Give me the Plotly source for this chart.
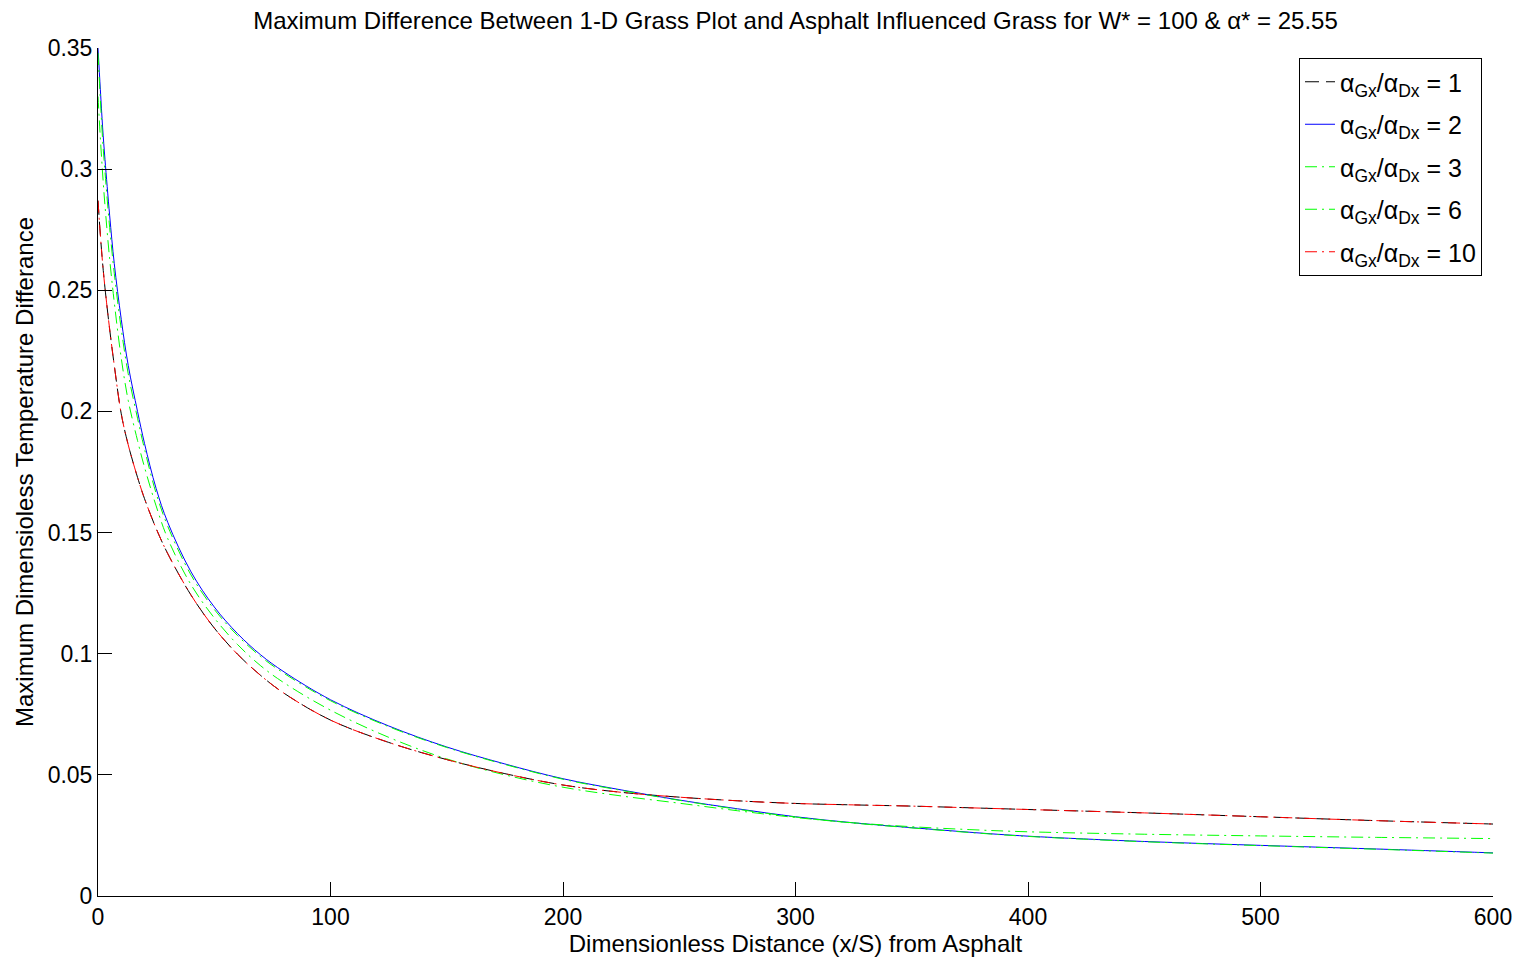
import plotly.graph_objects as go

# ---- data ----
x_dist = [0, 1, 2, 3, 5, 7, 10, 13, 17, 20, 25, 30, 40, 50, 60, 70, 80, 100, 125,
          150, 175, 200, 225, 250, 275, 300, 325, 350, 375, 400, 450, 500, 550, 600]

ratio_1 = [0.287, 0.273, 0.261, 0.251, 0.234, 0.219, 0.199, 0.1862, 0.1728, 0.1640,
           0.1517, 0.1413, 0.1242, 0.1106, 0.0998, 0.0910, 0.0837, 0.0726, 0.0634,
           0.0563, 0.0505, 0.0458, 0.0428, 0.0408, 0.0393, 0.0382, 0.0376, 0.0371,
           0.0364, 0.0357, 0.0343, 0.0327, 0.0311, 0.0297]

ratio_2 = [0.350, 0.333, 0.317, 0.304, 0.281, 0.261, 0.238, 0.219, 0.200, 0.1868,
           0.1682, 0.1542, 0.1338, 0.1193, 0.1083, 0.0995, 0.0925, 0.0810, 0.0702,
           0.0615, 0.0545, 0.0484, 0.0438, 0.0396, 0.0360, 0.0327, 0.0302, 0.0282,
           0.0263, 0.0247, 0.0225, 0.0209, 0.0194, 0.0178]

ratio_3 = [0.348, 0.329, 0.312, 0.299, 0.276, 0.257, 0.234, 0.2155, 0.1972, 0.1845,
           0.1662, 0.1526, 0.1325, 0.1183, 0.1075, 0.0988, 0.0919, 0.0806, 0.0699,
           0.0613, 0.0543, 0.0482, 0.0436, 0.0395, 0.0358, 0.0326, 0.0301, 0.0281,
           0.0262, 0.0246, 0.0224, 0.0208, 0.0193, 0.0177]

ratio_6 = [0.330, 0.313, 0.298, 0.285, 0.263, 0.245, 0.222, 0.2045, 0.188, 0.177,
           0.161, 0.1475, 0.1285, 0.1148, 0.1038, 0.0950, 0.0880, 0.0767, 0.0655,
           0.0566, 0.0500, 0.0449, 0.0413, 0.0383, 0.0352, 0.0324, 0.0302, 0.0286,
           0.0274, 0.0265, 0.0255, 0.0248, 0.0242, 0.0237]

ratio_10 = list(ratio_1)

series_names = ["1", "2", "3", "6", "10"]
series_vals = [ratio_1, ratio_2, ratio_3, ratio_6, ratio_10]
series_colors = ["#000000", "#0000FF", "#00FF00", "#00FF00", "#FF0000"]
series_dash = ["14px,7px", "solid", "12px,5px,2px,5px", "12px,5px,2px,5px", "12px,5px,2px,5px"]

x_ticks = [0, 100, 200, 300, 400, 500, 600]
y_ticks = [0, 0.05, 0.1, 0.15, 0.2, 0.25, 0.3, 0.35]
y_ticktext = ["0", "0.05", "0.1", "0.15", "0.2", "0.25", "0.3", "0.35"]

FONT = "Liberation Sans, Arial, sans-serif"

# page body has an 8px margin, so the figure is sized/offset to compensate
W, H = 1508, 949
ML, MR, MT, MB = 90, 23, 40, 61

fig = go.Figure()
for name, vals, col, dash in zip(series_names, series_vals, series_colors, series_dash):
    fig.add_trace(go.Scatter(
        x=x_dist, y=vals, mode="lines",
        line=dict(color=col, width=1, dash=dash, shape="spline", smoothing=1.0),
        name="α<sub>Gx</sub>/α<sub>Dx</sub> = " + name,
        legendgroup="g" + name,
    ))

fig.update_layout(
    width=W, height=H, autosize=False,
    paper_bgcolor="white", plot_bgcolor="white",
    margin=dict(l=ML, r=MR, t=MT, b=MB, pad=0, autoexpand=False),
    font=dict(family=FONT, size=22, color="black"),
    title=dict(
        text="Maximum Difference Between 1-D Grass Plot and Asphalt Influenced Grass for W* = 100 &amp; α* = 25.55",
        x=0.5, xref="paper", xanchor="center",
        y=1 - 13 / H, yref="container", yanchor="middle",
        font=dict(family=FONT, size=24, color="black"),
    ),
    showlegend=True,
    legend=dict(
        x=(1299 - 98) / 1395, y=(896 - 58) / 848, xanchor="left", yanchor="top",
        bgcolor="white", bordercolor="black", borderwidth=1,
        tracegroupgap=7,
        font=dict(family=FONT, size=25, color="black"),
    ),
)

fig.update_xaxes(
    range=[0, 600], tickvals=x_ticks, ticktext=[str(v) for v in x_ticks],
    ticks="inside", ticklen=14, tickcolor="black", tickwidth=1,
    showline=True, linecolor="black", linewidth=1, mirror=False,
    showgrid=False, zeroline=False, automargin=False,
    tickfont=dict(family=FONT, size=23, color="black"),
    title=dict(text="Dimensionless Distance (x/S) from Asphalt", standoff=6,
               font=dict(family=FONT, size=24, color="black")),
)
fig.update_yaxes(
    range=[0, 0.35], tickvals=y_ticks, ticktext=y_ticktext,
    ticks="inside", ticklen=14, tickcolor="black", tickwidth=1,
    showline=True, linecolor="black", linewidth=1, mirror=False,
    showgrid=False, zeroline=False, automargin=False,
    tickfont=dict(family=FONT, size=23, color="black"),
    title=dict(text="Maximum Dimensioless Temperature Differance", standoff=7,
               font=dict(family=FONT, size=24, color="black")),
)

fig.write_html("out.html")
